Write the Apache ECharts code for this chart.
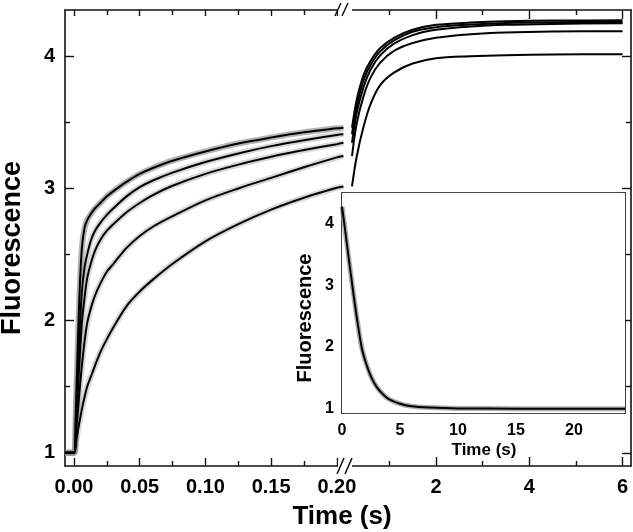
<!DOCTYPE html>
<html>
<head>
<meta charset="utf-8">
<script src="https://cdn.jsdelivr.net/npm/echarts@6/dist/echarts.min.js"></script>
<style>html,body{margin:0;padding:0;background:#fff}#c{width:633px;height:532px}</style>
</head>
<body>
<div id="c"></div>
<script>
// ---- data ----
const leftT = [-0.00685, 0, 0.0015, 0.003, 0.0045, 0.006, 0.008, 0.01, 0.013, 0.016, 0.02, 0.025, 0.03, 0.04, 0.05, 0.06, 0.075, 0.1, 0.125, 0.15, 0.175, 0.2, 0.205];
const leftC1 = [1.0, 1.0, 1.36, 1.86, 2.28, 2.55, 2.70, 2.76, 2.81, 2.85, 2.89, 2.94, 2.98, 3.05, 3.11, 3.155, 3.21, 3.28, 3.34, 3.385, 3.425, 3.455, 3.46];
const leftC2 = [1.0, 1.0, 1.30, 1.62, 1.95, 2.22, 2.40, 2.50, 2.61, 2.68, 2.74, 2.80, 2.85, 2.94, 3.01, 3.06, 3.12, 3.20, 3.265, 3.32, 3.365, 3.405, 3.41];
const leftC3 = [1.0, 1.0, 1.22, 1.48, 1.75, 1.98, 2.17, 2.32, 2.44, 2.53, 2.61, 2.68, 2.73, 2.82, 2.89, 2.95, 3.02, 3.11, 3.18, 3.24, 3.29, 3.335, 3.345];
const leftC4 = [1.0, 1.0, 1.15, 1.32, 1.50, 1.66, 1.84, 1.98, 2.10, 2.19, 2.28, 2.37, 2.43, 2.55, 2.64, 2.71, 2.79, 2.91, 3.00, 3.08, 3.16, 3.235, 3.245];
const leftC5 = [1.0, 1.0, 1.08, 1.17, 1.25, 1.33, 1.42, 1.50, 1.58, 1.66, 1.76, 1.86, 1.95, 2.11, 2.22, 2.31, 2.43, 2.60, 2.73, 2.84, 2.93, 3.005, 3.015];

const rightT = [0.2, 0.3, 0.45, 0.6, 0.8, 1.1, 1.5, 2.0, 2.75, 3.5, 4.5, 6.0];
const rightC1 = [3.46, 3.67, 3.86, 3.965, 4.06, 4.14, 4.20, 4.238, 4.255, 4.265, 4.27, 4.272];
const rightC2 = [3.41, 3.62, 3.82, 3.935, 4.035, 4.12, 4.185, 4.22, 4.24, 4.252, 4.258, 4.26];
const rightC3 = [3.345, 3.57, 3.77, 3.90, 4.005, 4.095, 4.16, 4.20, 4.225, 4.238, 4.245, 4.25];
const rightC4 = [3.245, 3.49, 3.70, 3.84, 3.95, 4.04, 4.10, 4.14, 4.167, 4.18, 4.187, 4.19];
const rightC5 = [3.015, 3.24, 3.47, 3.64, 3.78, 3.876, 3.945, 3.985, 4.0, 4.008, 4.013, 4.016];

const insetT = [0, 0.2, 0.54, 0.89, 1.26, 1.69, 2.1, 2.55, 3.0, 3.5, 4.0, 5.0, 6.0, 7.5, 10, 15, 20, 24.4];
const insetF = [4.28, 4.0, 3.5, 3.0, 2.5, 2.0, 1.72, 1.5, 1.35, 1.24, 1.16, 1.08, 1.04, 1.02, 1.005, 1.0, 1.0, 1.0];

const leftXTicks = [0, 0.05, 0.1, 0.15, 0.2];
const leftXMinor = [0.025, 0.075, 0.125, 0.175];
const rightXTicks = [2, 4, 6];
const rightXMinor = [1, 3, 5];
const yTicks = [1, 2, 3, 4];
const yMinor = [1.5, 2.5, 3.5];
const insetXTicks = [0, 5, 10, 15, 20];
const insetXMinor = [2.5, 7.5, 12.5, 17.5, 22.5];
const insetYTicks = [1, 2, 3, 4];
const insetYMinor = [1.5, 2.5, 3.5, 4.5];

// ---- chart ----
const FONT = '"Liberation Sans", Arial, sans-serif';
const pair = (xs, ys) => xs.map((x, i) => [x, ys[i]]);

function axis(grid, pos, min, max, ticks, len, showLine, label, fmt, fontSize, margin) {
  return {
    type: 'value', gridIndex: grid, position: pos, min: min, max: max,
    axisLine: { show: showLine, onZero: false, lineStyle: { color: '#111', width: 1.6 } },
    axisTick: { show: true, inside: true, length: len, customValues: ticks, lineStyle: { color: '#111', width: 1.4 } },
    axisLabel: { show: !!label, customValues: ticks, margin: margin || 8, formatter: fmt || (v => String(v)),
      color: '#000', fontFamily: FONT, fontWeight: 'bold', fontSize: fontSize || 16 },
    splitLine: { show: false }
  };
}

const LX = [-0.00685, 0.2062], RX = [0.2, 6.18], YR = [0.9, 4.35], IX = [0, 24.4], IY = [0.93, 4.5];
const xAxes = [
  axis(0, 'bottom', LX[0], LX[1], leftXTicks, 8, true, true, v => v.toFixed(2), 20, 11),
  axis(0, 'bottom', LX[0], LX[1], leftXMinor, 5, false, false),
  axis(0, 'top', LX[0], LX[1], leftXTicks, 6, true, false),
  axis(0, 'top', LX[0], LX[1], leftXMinor, 5, false, false),
  axis(1, 'bottom', RX[0], RX[1], rightXTicks, 9, true, true, null, 20, 11),
  axis(1, 'bottom', RX[0], RX[1], rightXMinor, 5, false, false),
  axis(1, 'top', RX[0], RX[1], rightXTicks, 9, true, false),
  axis(1, 'top', RX[0], RX[1], rightXMinor, 5, false, false),
  axis(2, 'bottom', IX[0], IX[1], insetXTicks, 7, true, true, null, 16, 10),
  axis(2, 'bottom', IX[0], IX[1], insetXMinor, 5, false, false),
  axis(2, 'top', IX[0], IX[1], insetXTicks, 7, true, false),
  axis(2, 'top', IX[0], IX[1], insetXMinor, 5, false, false)
];
const yAxes = [
  axis(0, 'left', YR[0], YR[1], yTicks, 9, true, true, null, 20, 10),
  axis(0, 'left', YR[0], YR[1], yMinor, 5, false, false),
  axis(1, 'right', YR[0], YR[1], yTicks, 9, true, false),
  axis(1, 'right', YR[0], YR[1], yMinor, 5, false, false),
  axis(2, 'left', IY[0], IY[1], insetYTicks, 8, true, true, null, 16, 8),
  axis(2, 'left', IY[0], IY[1], insetYMinor, 5, false, false),
  axis(2, 'right', IY[0], IY[1], insetYTicks, 8, true, false),
  axis(2, 'right', IY[0], IY[1], insetYMinor, 5, false, false)
];

const series = [];
function addLine(xi, yi, data, color, width, z) {
  series.push({ type: 'line', xAxisIndex: xi, yAxisIndex: yi, data: data, symbol: 'none',
    smooth: 0.3, lineStyle: { color: color, width: width }, z: z, silent: true });
}
const leftCurves = [leftC1, leftC2, leftC3, leftC4, leftC5];
const rightCurves = [rightC1, rightC2, rightC3, rightC4, rightC5];
leftCurves.forEach((c, i) => addLine(0, 0, pair(leftT, c), i === 0 ? 'rgba(90,90,90,0.45)' : 'rgba(140,140,140,0.35)', 6, 2));
leftCurves.forEach(c => addLine(0, 0, pair(leftT, c), '#000', 2, 3));
rightCurves.forEach(c => addLine(4, 2, pair(rightT, c), '#000', 2, 3));
addLine(8, 4, pair(insetT, insetF), 'rgba(120,120,120,0.6)', 5, 4);
addLine(8, 4, pair(insetT, insetF), '#000', 2, 5);

const txt = (x, y, s, size, rot) => ({ type: 'text', x: x, y: y, rotation: rot || 0, z: 50,
  style: { text: s, font: 'bold ' + size + 'px ' + FONT, fill: '#000', textAlign: 'center', textVerticalAlign: 'middle' } });
const seg = (x1, y1, x2, y2) => ({ type: 'line', z: 60, shape: { x1: x1, y1: y1, x2: x2, y2: y2 }, style: { stroke: '#111', lineWidth: 1.5 } });

const option = {
  animation: false,
  backgroundColor: '#fff',
  grid: [
    { left: 65, top: 10, width: 280, height: 456, outerBoundsMode: 'none' },
    { left: 352, top: 10, width: 279, height: 456, outerBoundsMode: 'none' },
    { left: 342, top: 193, width: 283, height: 220, outerBoundsMode: 'none', show: true, backgroundColor: '#fff', borderWidth: 0, z: 1 }
  ],
  xAxis: xAxes,
  yAxis: yAxes,
  series: series,
  graphic: [
    { type: 'rect', z: 55, shape: { x: 338, y: 4, width: 14, height: 12 }, style: { fill: '#fff' } },
    { type: 'rect', z: 55, shape: { x: 338, y: 460, width: 14, height: 12 }, style: { fill: '#fff' } },
    seg(335, 16, 341, 3), seg(342, 16, 348, 3),
    seg(337, 474, 344, 458), seg(345, 474, 352, 458),
    txt(13, 248, 'Fluorescence', 27, Math.PI / 2),
    txt(342, 517, 'Time (s)', 26),
    txt(305, 318, 'Fluorescence', 20, Math.PI / 2),
    txt(484, 450, 'Time (s)', 17)
  ]
};
const chart = echarts.init(document.getElementById('c'), null, { renderer: 'canvas' });
chart.setOption(option);
</script>
</body>
</html>
